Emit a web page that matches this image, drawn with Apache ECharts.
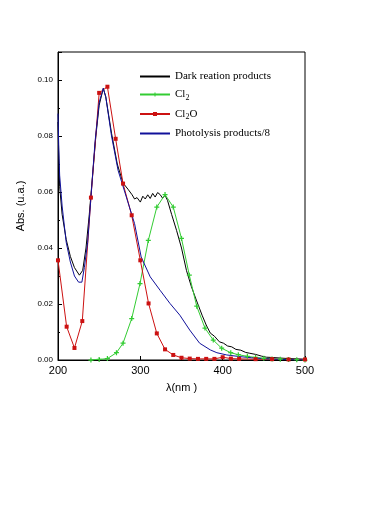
<!DOCTYPE html>
<html><head><meta charset="utf-8">
<script src="https://cdn.jsdelivr.net/npm/echarts@6/dist/echarts.min.js"></script>
<style>html,body{margin:0;padding:0;background:#fff}#c{width:384px;height:518px}</style>
</head><body><div id="c"></div>
<script>
var seriesNames = ['Dark reation products', 'Cl2', 'Cl2O', 'Photolysis products/8'];
var xTicks = [200, 300, 400, 500];
var yTicks = [0.00, 0.02, 0.04, 0.06, 0.08, 0.10];

var darkX = [200,201,202,205,210,215,220,226,230,234,238,242,246,250,255,258,265,272,279,285,290,293,296,300,303,306,309,312,315,318,321,324,327,330,333,338,344,350,356,362,368,375,380,385,390,396,401,406,411,416,422,428,433,440,447,453,460,470,480,490,500];
var darkY = [0.085,0.072,0.062,0.052,0.043,0.037,0.033,0.0303,0.032,0.040,0.052,0.066,0.080,0.091,0.097,0.094,0.081,0.070,0.0632,0.061,0.059,0.0575,0.058,0.0564,0.0585,0.0575,0.0590,0.0577,0.0595,0.0582,0.0598,0.0591,0.0578,0.0588,0.0570,0.0520,0.0463,0.0400,0.0320,0.0262,0.0214,0.0160,0.0125,0.0096,0.0085,0.0065,0.0060,0.0050,0.0047,0.0038,0.0035,0.0027,0.0024,0.0020,0.0014,0.0010,0.0009,0.0007,0.0005,0.0004,0.0003];

var cl2X = [240,250,260,271,279,289.5,299.6,309.7,320,330,340,350,359.5,368.5,378.5,388.6,398.8,409.8,419,430,440,450,460,470,480,490,500];
var cl2Y = [0.0000,0.0002,0.0005,0.0026,0.0060,0.0148,0.0273,0.0427,0.0546,0.0591,0.0546,0.0434,0.0303,0.0192,0.0114,0.0071,0.0042,0.0026,0.0019,0.0013,0.0009,0.0006,0.0004,0.0003,0.0002,0.0001,0.0000];

var cl2oX = [200,210.5,220,229.5,240,250,260,270,279,289.5,300,310,320,330,340,350,360,370,380,390,400,410,420,440,460,480,500];
var cl2oY = [0.0356,0.0119,0.0043,0.0139,0.0580,0.0954,0.0976,0.0790,0.0630,0.0517,0.0356,0.0202,0.0095,0.0038,0.0018,0.0008,0.0005,0.0004,0.0004,0.0004,0.0010,0.0005,0.0004,0.0003,0.0003,0.0002,0.0002];

var photoX = [200,201,202,205,210,215,220,225,229,232,236,240,245,250,255,258,265,273,283,293,301,312,324,336,348,360,372,385,393,405,421,435,450,470,500];
var photoY = [0.088,0.075,0.066,0.055,0.042,0.035,0.030,0.0278,0.0278,0.033,0.042,0.058,0.078,0.092,0.097,0.094,0.080,0.0677,0.0582,0.0487,0.0368,0.0297,0.0249,0.0202,0.0160,0.0107,0.0060,0.0036,0.0026,0.0018,0.0012,0.0008,0.0005,0.0002,0.0000];

function pairs(xs, ys) { return xs.map(function (x, i) { return [x, ys[i]]; }); }

var plusPath = 'path://M-1,-4H1V-1H4V1H1V4H-1V1H-4V-1H-1Z';

var chart = echarts.init(document.getElementById('c'), null, {renderer: 'canvas'});
chart.setOption({
  backgroundColor: '#fff',
  animation: false,
  grid: {left: 58, right: 79, top: 52, bottom: 158, show: true, borderColor: '#000', borderWidth: 1, backgroundColor: 'transparent'},
  legend: {
    orient: 'vertical', left: 134, top: 66, itemWidth: 30, itemHeight: 5, itemGap: 7,
    data: [
      {name: seriesNames[0], itemStyle: {opacity: 0}},
      {name: seriesNames[1]},
      {name: seriesNames[2]},
      {name: seriesNames[3], itemStyle: {opacity: 0}}
    ],
    textStyle: {fontFamily: 'Liberation Serif', fontSize: 11, color: '#000',
      rich: {s: {fontFamily: 'Liberation Serif', fontSize: 8, color: '#000', verticalAlign: 'bottom', padding: [6, 0, 0, 0]}}},
    formatter: function (n) {
      if (n === 'Cl2') return 'Cl{s|2}';
      if (n === 'Cl2O') return 'Cl{s|2}O';
      return n;
    }
  },
  xAxis: {
    type: 'value', min: 200, max: 500, interval: 100,
    name: 'λ(nm )', nameLocation: 'middle', nameGap: 22,
    nameTextStyle: {fontFamily: 'Liberation Sans', fontSize: 11, color: '#000'},
    axisLine: {show: true, lineStyle: {color: '#000', width: 1}},
    axisTick: {show: true, inside: true, length: 4, lineStyle: {color: '#000'}},
    minorTick: {show: true, splitNumber: 2, length: 2, lineStyle: {color: '#000'}},
    axisLabel: {fontFamily: 'Liberation Sans', fontSize: 11, color: '#000', margin: 5,
      formatter: function (v) { return xTicks.indexOf(v) >= 0 ? String(v) : ''; }},
    splitLine: {show: false}
  },
  yAxis: {
    type: 'value', min: 0, max: 0.11, interval: 0.02,
    name: 'Abs. (u.a.)', nameLocation: 'middle', nameGap: 19,
    nameTextStyle: {fontFamily: 'Liberation Sans', fontSize: 11, color: '#000'},
    axisLine: {show: true, lineStyle: {color: '#000', width: 1}},
    axisTick: {show: true, inside: true, length: 4, lineStyle: {color: '#000'}},
    minorTick: {show: true, splitNumber: 2, length: 2, lineStyle: {color: '#000'}},
    axisLabel: {fontFamily: 'Liberation Sans', fontSize: 8, color: '#000', margin: 5, showMaxLabel: false,
      formatter: function (v) {
        for (var i = 0; i < yTicks.length; i++) if (Math.abs(yTicks[i] - v) < 1e-9) return yTicks[i].toFixed(2);
        return '';
      }},
    splitLine: {show: false}
  },
  series: [
    {name: seriesNames[0], type: 'line', data: pairs(darkX, darkY), showSymbol: false, symbol: 'none',
      itemStyle: {color: '#000'}, lineStyle: {color: '#000', width: 1}},
    {name: seriesNames[1], type: 'line', data: pairs(cl2X, cl2Y), symbol: plusPath, symbolSize: 5,
      itemStyle: {color: '#33cc33'}, lineStyle: {color: '#33cc33', width: 1}},
    {name: seriesNames[2], type: 'line', data: pairs(cl2oX, cl2oY), symbol: 'rect', symbolSize: 4,
      itemStyle: {color: '#cc1111'}, lineStyle: {color: '#cc1111', width: 1}},
    {name: seriesNames[3], type: 'line', data: pairs(photoX, photoY), showSymbol: false, symbol: 'none',
      itemStyle: {color: '#10109a'}, lineStyle: {color: '#10109a', width: 1}}
  ]
});
</script></body></html>
